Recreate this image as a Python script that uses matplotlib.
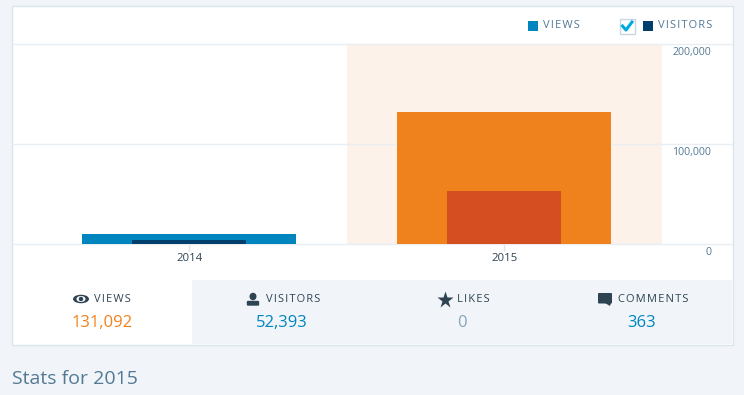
import matplotlib
matplotlib.use("Agg")
import matplotlib.pyplot as plt
from matplotlib.patches import Rectangle, Ellipse, Polygon, FancyBboxPatch
from matplotlib.lines import Line2D

years = ["2014", "2015"]
views = [10000, 132000]
visitors = [4000, 53000]
y_ticks = [0, 100000, 200000]
tab_labels = ["VIEWS", "VISITORS", "LIKES", "COMMENTS"]
tab_values = ["131,092", "52,393", "0", "363"]
legend_labels = ["VIEWS", "VISITORS"]
page_title = "Stats for 2015"

W, H = 744, 395
PAGE = "#f1f5f9"
BORDER = "#dbe5ec"
GRID = "#e9eef2"
DARK = "#2e4453"
SLATE = "#537994"
BLUE = "#0085be"
NAVY = "#003f6b"
ORANGE = "#f0821e"
DEEP = "#d54e21"
HILITE = "#fcf2ea"
HAIR = "\u200a"

plt.rcParams["font.family"] = ["Open Sans", "DejaVu Sans"]


def spaced(s):
    return HAIR.join(s)


def px_axes(fig, x0, y0, x1, y1):
    # pixel box measured from the top left corner
    return fig.add_axes([x0 / W, 1 - y1 / H, (x1 - x0) / W, (y1 - y0) / H])


def draw_bars(ax):
    ax.axvspan(0.5, 1.5, color=HILITE, lw=0, zorder=0)
    for i in range(len(years)):
        ax.bar(i, views[i], width=214 / 315, color=ORANGE if i == 1 else BLUE, zorder=3)
        ax.bar(i, visitors[i], width=114 / 315, color=DEEP if i == 1 else NAVY, zorder=4)
    ax.set_xticks(range(len(years)))
    ax.set_xticklabels(years, fontsize=8.2, color=DARK)
    ax.set_yticks(y_ticks)
    ax.yaxis.tick_right()
    ax.tick_params(axis="x", length=5, width=1, color="#dde3e8", pad=1.5)
    ax.tick_params(axis="y", length=0, labelright=False)
    ax.grid(True, axis="y", color=GRID, lw=1, clip_on=False)
    for line in ax.get_ygridlines():
        line.set_zorder(1)
    for s in ax.spines.values():
        s.set_visible(False)
    ax.set_ylim(0, 200000)
    # one category is 315 px wide, 2014 sits near x=189
    ax.set_xlim((12 - 189.4) / 315, (732 - 189.4) / 315)
    # the y labels hang below their grid lines, so they are annotations
    for v in y_ticks:
        ax.annotate(format(v, ","), xy=(699 / 720, v), xycoords=ax.get_yaxis_transform(),
                    xytext=(0, -5.7), textcoords="offset points", fontsize=7.6,
                    color=SLATE, ha="right", va="center", annotation_clip=False)


def draw_icons(top):
    # eye
    top.add_patch(Ellipse((81, 299), 16, 8.5, fc=DARK, ec="none"))
    top.add_patch(Ellipse((81, 299), 9, 6, fc="white", ec="none"))
    top.add_patch(Ellipse((81, 299), 4.5, 4.5, fc=DARK, ec="none"))
    # person
    top.add_patch(Ellipse((253, 296.5), 7, 7.5, fc=DARK, ec="none"))
    top.add_patch(FancyBboxPatch((248, 302), 10, 2.5, boxstyle="round,pad=1.2",
                                 fc=DARK, ec="none"))
    # star
    top.plot([445], [299.5], marker="*", ms=12.5, color=DARK, mec="none")
    # speech bubble
    top.add_patch(FancyBboxPatch((599, 294), 12, 8.5, boxstyle="round,pad=1",
                                 fc=DARK, ec="none"))
    top.add_patch(Polygon([[605, 303], [611, 303], [610, 306]], fc=DARK, ec="none"))


def main():
    fig = plt.figure(figsize=(W / 100, H / 100), dpi=100, facecolor=PAGE)

    # overlay in pixel coordinates for the card and the tabs
    ov = fig.add_axes([0, 0, 1, 1], zorder=0)
    ov.set_xlim(0, W)
    ov.set_ylim(H, 0)
    ov.axis("off")
    ov.add_patch(Rectangle((11.5, 5.5), 721, 339, fc="white", ec=BORDER, lw=1))
    ov.add_patch(Rectangle((192, 280), 540, 64, fc=PAGE, ec="none"))

    ax = px_axes(fig, 12, 44.2, 732, 244.2)
    ax.patch.set_alpha(0)
    ax.set_zorder(1)
    draw_bars(ax)

    top = fig.add_axes([0, 0, 1, 1], zorder=2)
    top.set_xlim(0, W)
    top.set_ylim(H, 0)
    top.axis("off")
    top.patch.set_alpha(0)

    # legend row
    top.add_patch(Rectangle((528, 21), 10, 10, fc=BLUE, ec="none"))
    top.text(543, 26, spaced(legend_labels[0]), fontsize=8, color=SLATE, va="center")
    top.add_patch(Rectangle((619.5, 18.5), 15, 15, fc="white", ec="#c8d7e1", lw=1))
    top.add_artist(Line2D([622.5, 626, 632], [26, 30, 22], color="#00aadc", lw=2.2))
    top.add_patch(Rectangle((643, 21), 10, 10, fc=NAVY, ec="none"))
    top.text(658, 26, spaced(legend_labels[1]), fontsize=8, color=SLATE, va="center")

    # summary tabs
    label_x = [94, 266, 457, 618]
    value_x = [102, 282, 462, 642]
    value_colors = [ORANGE, BLUE, "#87a6bc", BLUE]
    for i in range(len(tab_labels)):
        top.text(label_x[i], 299.5, spaced(tab_labels[i]), fontsize=8, color=DARK,
                 va="center", ha="left")
        top.text(value_x[i], 323, tab_values[i], fontsize=12, color=value_colors[i],
                 va="center", ha="center")
    draw_icons(top)

    top.text(12, 379.5, page_title, fontsize=14, color=SLATE, va="center")

    fig.savefig("out.png", dpi=100, facecolor=PAGE)


if __name__ == "__main__":
    main()
